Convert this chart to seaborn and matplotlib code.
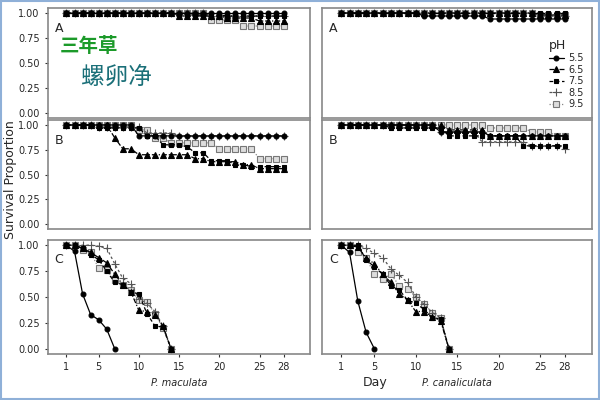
import matplotlib
matplotlib.use("Agg")
import matplotlib.pyplot as plt
import seaborn as sns
import pandas as pd
from matplotlib.patches import Rectangle

ph_levels = ["5.5", "6.5", "7.5", "8.5", "9.5"]
days_ab = list(range(1, 29))
days_c = list(range(1, 15))

# Panel A, P. maculata
la_55 = [1,1,1,1,1,1,1,1,1,1,1,1,1,1,1,1,1,1,1,1,1,1,1,1,1,1,1,1]
la_65 = [1,1,1,1,1,1,1,1,1,1,1,1,1,1,.97,.97,.97,.97,.97,.97,.95,.95,.95,.95,.92,.92,.92,.92]
la_75 = [1,1,1,1,1,1,1,1,1,1,1,1,1,1,.98,.98,.98,.98,.98,.98,.97,.97,.97,.97,.97,.97,.97,.97]
la_85 = [1,1,1,1,1,1,1,1,1,1,1,1,1,1,1,1,1,1,.97,.97,.97,.97,.97,.97,.97,.97,.97,.97]
la_95 = [1,1,1,1,1,1,1,1,1,1,1,1,1,1,1,1,1,1,.93,.93,.93,.93,.87,.87,.87,.87,.87,.87]
# Panel B, P. maculata
lb_55 = [1,1,1,1,1,1,1,1,1,.89,.89,.89,.89,.89,.89,.89,.89,.89,.89,.89,.89,.89,.89,.89,.89,.89,.89,.89]
lb_65 = [1,1,1,1,1,1,.87,.76,.76,.70,.70,.70,.70,.70,.70,.70,.66,.66,.63,.63,.63,.63,.60,.60,.56,.56,.56,.56]
lb_75 = [1,1,1,1,.97,.97,.97,.97,.97,.97,.89,.89,.80,.80,.80,.78,.72,.72,.64,.64,.64,.60,.60,.58,.58,.58,.58,.58]
lb_85 = [1,1,1,1,.98,.98,.98,.98,.98,.98,.92,.92,.92,.92,.89,.89,.89,.89,.89,.89,.89,.89,.89,.89,.89,.89,.89,.89]
lb_95 = [1,1,1,1,1,1,1,1,1,.95,.95,.87,.87,.82,.82,.82,.82,.82,.82,.76,.76,.76,.76,.76,.66,.66,.66,.66]
# Panel A, P. canaliculata
ra_55 = [1,1,1,1,1,1,1,1,1,1,.97,.97,.97,.97,.97,.97,.97,.97,.94,.94,.94,.94,.94,.94,.94,.94,.94,.94]
ra_65 = [1,1,1,1,1,1,1,1,1,1,1,1,1,1,1,1,1,1,1,1,1,1,1,1,.98,.98,.98,.98]
ra_75 = [1,1,1,1,1,1,1,1,1,1,1,1,1,1,1,1,1,1,1,1,1,1,1,1,1,1,1,1]
ra_85 = [1,1,1,1,1,1,1,1,1,1,1,1,1,1,1,1,1,1,1,1,1,1,1,1,.97,.97,.97,.97]
ra_95 = [1,1,1,1,1,1,1,1,1,1,1,1,1,1,1,1,1,1,1,1,1,1,1,1,.98,.98,.98,.98]
# Panel B, P. canaliculata
rb_55 = [1,1,1,1,1,1,1,1,1,1,1,1,.93,.93,.93,.93,.93,.93,.89,.89,.89,.89,.89,.89,.89,.89,.89,.89]
rb_65 = [1,1,1,1,1,1,1,1,1,1,1,1,1,.95,.95,.95,.95,.95,.89,.89,.89,.89,.89,.89,.89,.89,.89,.89]
rb_75 = [1,1,1,1,1,1,.97,.97,.97,.97,.97,.97,.97,.89,.89,.89,.89,.89,.89,.89,.89,.89,.79,.79,.79,.79,.79,.79]
rb_85 = [1,1,1,1,1,1,1,1,1,1,1,1,.93,.93,.93,.93,.93,.83,.83,.83,.83,.83,.83,.79,.79,.79,.79,.76]
rb_95 = [1,1,1,1,1,1,1,1,1,1,1,1,1,1,1,1,1,1,.97,.97,.97,.97,.97,.93,.93,.93,.89,.89]
# Panel C, P. maculata
lc_55 = [1.0, .94, .53, .33, .28, .19, 0.0]
lc_65 = [1, 1, .97, .93, .88, .83, .72, .62, .55, .37, .36, .33, .22, 0]
lc_75 = [1, 1, .97, .91, .86, .75, .64, .62, .55, .53, .34, .22, .21, 0]
lc_85 = [1, 1, 1, 1, .99, .97, .82, .68, .63, .48, .44, .36, .22, 0]
lc_95 = [1, 1, .95, .93, .78, .76, .66, .62, .57, .47, .45, .34, .20, 0]
# Panel C, P. canaliculata
rc_55 = [1.0, .93, .46, .16, 0.0]
rc_65 = [1, 1, .98, .88, .82, .72, .64, .53, .47, .36, .36, .31, .27, 0]
rc_75 = [1, 1, 1, .86, .79, .72, .61, .57, .47, .44, .38, .30, .29, 0]
rc_85 = [1, 1, 1, .97, .92, .88, .77, .71, .64, .50, .43, .35, .30, 0]
rc_95 = [1, 1, .93, .88, .72, .67, .72, .61, .58, .50, .43, .35, .30, 0]

x_ticks = [1, 5, 10, 15, 20, 25, 28]
y_ticks = [0.0, 0.25, 0.5, 0.75, 1.0]

panels = {
    (0, 0): [la_55, la_65, la_75, la_85, la_95],
    (1, 0): [lb_55, lb_65, lb_75, lb_85, lb_95],
    (2, 0): [lc_55, lc_65, lc_75, lc_85, lc_95],
    (0, 1): [ra_55, ra_65, ra_75, ra_85, ra_95],
    (1, 1): [rb_55, rb_65, rb_75, rb_85, rb_95],
    (2, 1): [rc_55, rc_65, rc_75, rc_85, rc_95],
}
letters = ["A", "B", "C"]
styles = {
    "5.5": dict(marker="o", ls="-", color="black", mfc="black", mec="black", ms=3.5),
    "6.5": dict(marker="^", ls=(0, (4, 1.5, 1, 1.5)), color="black", mfc="black", mec="black", ms=4),
    "7.5": dict(marker="s", ls=(0, (3, 2)), color="black", mfc="black", mec="black", ms=3.5),
    "8.5": dict(marker="+", ls=(0, (2, 2)), color="#555555", mfc="#555555", mec="#555555", ms=5.5),
    "9.5": dict(marker="s", ls=(0, (1, 1.5)), color="#888888", mfc="#dddddd", mec="#777777", ms=4),
}

sns.set_style("white")
fig = plt.figure(figsize=(6, 4), dpi=100)
fig.patches.append(Rectangle((0.002, 0.003), 0.996, 0.994, transform=fig.transFigure,
                             fill=False, ec="#8fb0d8", lw=1.5))
lefts = [0.08, 0.537]
widths = [0.437, 0.45]
rows = [(0.705, 0.275), (0.427, 0.273), (0.115, 0.285)]

axes = {}
for (r, c), series in panels.items():
    ax = fig.add_axes([lefts[c], rows[r][0], widths[c], rows[r][1]])
    axes[(r, c)] = ax
    for ph, vals in reversed(list(zip(ph_levels, series))):
        days = days_ab[:len(vals)] if r < 2 else days_c[:len(vals)]
        df = pd.DataFrame({"Day": days, "Survival": vals})
        st = styles[ph]
        sns.lineplot(data=df, x="Day", y="Survival", ax=ax, color=st["color"],
                     linestyle=st["ls"], marker=st["marker"], markersize=st["ms"],
                     markerfacecolor=st["mfc"], markeredgecolor=st["mec"],
                     markeredgewidth=0.8, lw=0.9, label=ph if (r, c) == (0, 1) else None,
                     legend=False)
    ax.set_xlim(-1.3, 31.3)
    ax.set_ylim(-0.05, 1.05)
    ax.set_xlabel("")
    ax.set_ylabel("")
    ax.set_yticks(y_ticks)
    if c == 0:
        ax.set_yticklabels([f"{v:.2f}" for v in y_ticks])
    else:
        ax.set_yticklabels([])
    ax.set_xticks(x_ticks)
    if r < 2:
        ax.set_xticklabels([])
    ax.tick_params(labelsize=7, length=2.5, color="#333333", direction="out", left=(c == 0), bottom=(r == 2))
    for s in ax.spines.values():
        s.set_color("#888888")
        s.set_linewidth(1.2)
    ax.text(0.025, 0.78 if r < 2 else 0.8, letters[r], transform=ax.transAxes, fontsize=9)

axes[(2, 0)].set_xlabel("P. maculata", fontsize=7, style="italic", labelpad=4)
axes[(2, 1)].set_xlabel("P. canaliculata", fontsize=7, style="italic", labelpad=4)
h, l = axes[(0, 1)].get_legend_handles_labels()
order = sorted(range(len(l)), key=lambda i: l[i])
leg = axes[(0, 1)].legend([h[i] for i in order], [l[i] for i in order], title="pH",
                          loc="lower right", bbox_to_anchor=(1.0, 0.0), frameon=False,
                          fontsize=7, title_fontsize=9, handlelength=1.6, handletextpad=0.4,
                          labelspacing=0.15, alignment="left")
fig.text(0.625, 0.035, "Day", fontsize=9, ha="center")
fig.text(0.006, 0.55, "Survival Proportion", fontsize=9, rotation=90, va="center")

fig.text(0.1, 0.87, "三年草", fontsize=14, color="#1c9a2a", fontweight="bold", family="Noto Sans CJK SC")
fig.text(0.135, 0.79, "螺卵净", fontsize=17, color="#1a6f78", family="Noto Sans CJK SC")

fig.savefig("out.png", dpi=100)
